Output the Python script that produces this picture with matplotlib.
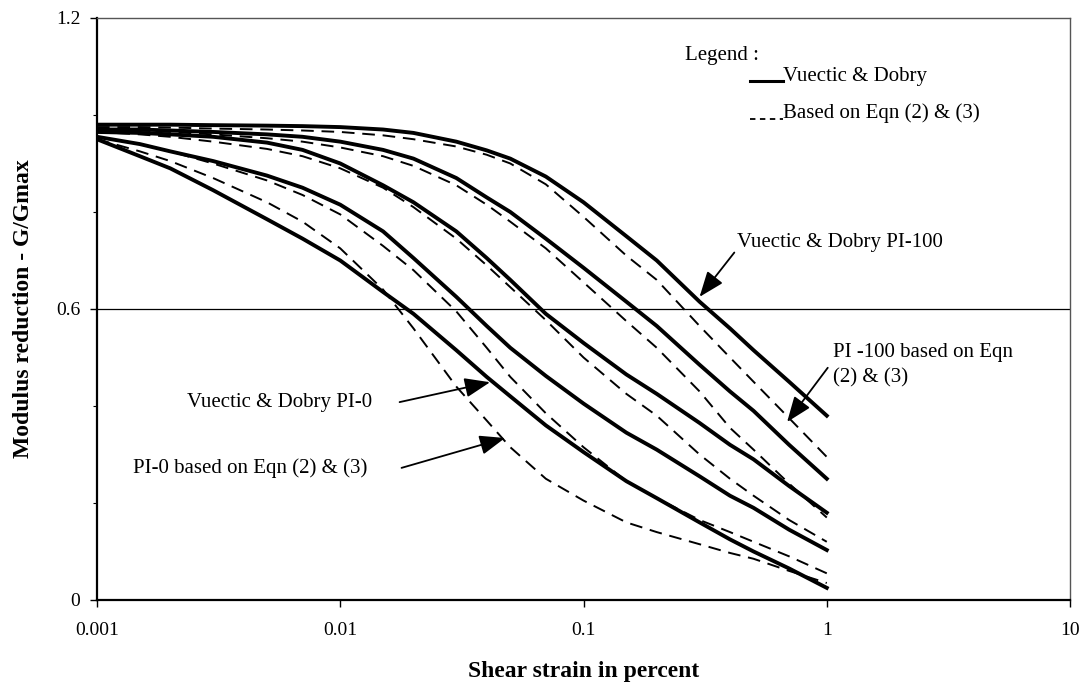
import matplotlib
matplotlib.use('Agg')
import matplotlib.pyplot as plt
from matplotlib.lines import Line2D

plt.rcParams['font.family'] = ['Liberation Serif', 'DejaVu Serif']

# shear strain (%) at which the curves were read
strain = [0.001, 0.0015, 0.002, 0.003, 0.005, 0.007, 0.01, 0.015, 0.02, 0.03, 0.04,
          0.05, 0.07, 0.1, 0.15, 0.2, 0.3, 0.4, 0.5, 0.7, 1]

# Vucetic & Dobry curves (solid)
vd_pi0 = [0.95, 0.915, 0.89, 0.845, 0.785, 0.745, 0.70, 0.635, 0.59, 0.515, 0.46,
          0.42, 0.36, 0.305, 0.245, 0.21, 0.16, 0.125, 0.10, 0.065, 0.025]
vd_pi15 = [0.955, 0.94, 0.925, 0.905, 0.875, 0.85, 0.815, 0.76, 0.705, 0.625, 0.565,
           0.52, 0.462, 0.405, 0.345, 0.31, 0.255, 0.215, 0.19, 0.145, 0.103]
vd_pi30 = [0.965, 0.963, 0.96, 0.955, 0.943, 0.928, 0.90, 0.855, 0.82, 0.76, 0.705,
           0.66, 0.59, 0.53, 0.465, 0.425, 0.365, 0.32, 0.29, 0.235, 0.18]
vd_pi50 = [0.97, 0.97, 0.968, 0.965, 0.96, 0.955, 0.945, 0.928, 0.91, 0.87, 0.83,
           0.80, 0.745, 0.685, 0.615, 0.565, 0.485, 0.43, 0.39, 0.32, 0.25]
vd_pi100 = [0.98, 0.98, 0.98, 0.979, 0.978, 0.977, 0.975, 0.97, 0.963, 0.945, 0.927,
            0.91, 0.873, 0.82, 0.75, 0.70, 0.615, 0.56, 0.515, 0.45, 0.38]

# curves based on Eqn (2) & (3) (dashed)
eq_pi0 = [0.95, 0.925, 0.905, 0.87, 0.82, 0.78, 0.725, 0.64, 0.56, 0.44, 0.37,
          0.315, 0.25, 0.205, 0.16, 0.14, 0.115, 0.097, 0.085, 0.06, 0.035]
eq_pi15 = [0.955, 0.94, 0.925, 0.90, 0.865, 0.835, 0.795, 0.73, 0.68, 0.595, 0.52,
           0.46, 0.385, 0.315, 0.245, 0.21, 0.165, 0.14, 0.12, 0.09, 0.055]
eq_pi30 = [0.965, 0.96, 0.955, 0.945, 0.93, 0.915, 0.89, 0.85, 0.81, 0.745, 0.69,
           0.645, 0.577, 0.50, 0.425, 0.38, 0.30, 0.25, 0.215, 0.165, 0.12]
eq_pi50 = [0.97, 0.968, 0.965, 0.96, 0.952, 0.945, 0.933, 0.915, 0.895, 0.855, 0.815,
           0.78, 0.725, 0.655, 0.575, 0.52, 0.43, 0.355, 0.31, 0.24, 0.17]
eq_pi100 = [0.975, 0.975, 0.974, 0.972, 0.97, 0.968, 0.965, 0.958, 0.95, 0.935, 0.918,
            0.90, 0.857, 0.79, 0.71, 0.66, 0.565, 0.50, 0.45, 0.375, 0.295]

solid_curves = [vd_pi0, vd_pi15, vd_pi30, vd_pi50, vd_pi100]
dashed_curves = [eq_pi0, eq_pi15, eq_pi30, eq_pi50, eq_pi100]

fig = plt.figure(figsize=(10.86, 6.91), dpi=100)
ax = fig.add_axes([0.0893, 0.1317, 0.896, 0.8423])

for y in solid_curves:
    ax.plot(strain, y, color='black', lw=2.8, solid_joinstyle='round')
for y in dashed_curves:
    ax.plot(strain, y, color='black', lw=1.4, dashes=(6.5, 4))

ax.set_xscale('log')
ax.set_xlim(0.001, 10)
ax.set_ylim(0, 1.2)
ax.set_xticks([0.001, 0.01, 0.1, 1, 10])
ax.set_xticklabels(['0.001', '0.01', '0.1', '1', '10'])
ax.xaxis.set_minor_locator(matplotlib.ticker.NullLocator())
ax.set_yticks([0, 0.6, 1.2])
ax.set_yticklabels(['0', '0.6', '1.2'])
ax.set_yticks([0.2, 0.4, 0.8, 1.0], minor=True)
ax.tick_params(axis='x', which='major', labelsize=14, direction='out', length=5, width=1, pad=11)
ax.tick_params(axis='y', which='major', labelsize=14, direction='out', length=5, width=1, pad=7)
ax.tick_params(axis='y', which='minor', direction='out', length=3, width=0.8)

ax.axhline(0.6, color='black', lw=0.9)

ax.spines['left'].set_linewidth(1.6)
ax.spines['bottom'].set_linewidth(1.6)
for s in ['top', 'right']:
    ax.spines[s].set_color('#555555')
    ax.spines[s].set_linewidth(1.0)
    ax.spines[s].set_linestyle((0, (1, 1)))

ax.set_xlabel('Shear strain in percent', fontsize=17, fontweight='bold', labelpad=16)
ax.set_ylabel('Modulus reduction - G/Gmax', fontsize=17, fontweight='bold', labelpad=16)

# legend drawn by hand
ax.text(0.604, 0.936, 'Legend :', transform=ax.transAxes, fontsize=15, va='center')
ax.add_line(Line2D([0.671, 0.705], [0.891, 0.891], transform=ax.transAxes, color='black', lw=2.2))
ax.text(0.705, 0.899, 'Vuectic & Dobry', transform=ax.transAxes, fontsize=15, va='center')
ax.add_line(Line2D([0.671, 0.705], [0.826, 0.826], transform=ax.transAxes, color='black',
                   lw=1.3, dashes=(3, 2.5)))
ax.text(0.705, 0.837, 'Based on Eqn (2) & (3)', transform=ax.transAxes, fontsize=15, va='center')

arrow = dict(arrowstyle='-|>,head_length=1.3,head_width=0.5', color='black', lw=1.3,
             shrinkA=0, shrinkB=0, mutation_scale=12)

ax.text(0.658, 0.615, 'Vuectic & Dobry PI-100', transform=ax.transAxes, fontsize=15, va='center')
ax.annotate('', xy=(0.30, 0.625), xytext=(0.655, 0.597), textcoords='axes fraction',
            arrowprops=arrow)

ax.text(0.756, 0.404, 'PI -100 based on Eqn\n(2) & (3)', transform=ax.transAxes,
        fontsize=15, va='center', linespacing=1.45)
ax.annotate('', xy=(0.687, 0.367), xytext=(0.751, 0.399), textcoords='axes fraction',
            arrowprops=arrow)

ax.text(0.093, 0.340, 'Vuectic & Dobry PI-0', transform=ax.transAxes, fontsize=15, va='center')
ax.annotate('', xy=(0.0413, 0.449), xytext=(0.311, 0.340), textcoords='axes fraction',
            arrowprops=arrow)

ax.text(0.037, 0.227, 'PI-0 based on Eqn (2) & (3)', transform=ax.transAxes, fontsize=15,
        va='center')
ax.annotate('', xy=(0.0476, 0.334), xytext=(0.313, 0.227), textcoords='axes fraction',
            arrowprops=arrow)

fig.savefig('out.png', dpi=100)
